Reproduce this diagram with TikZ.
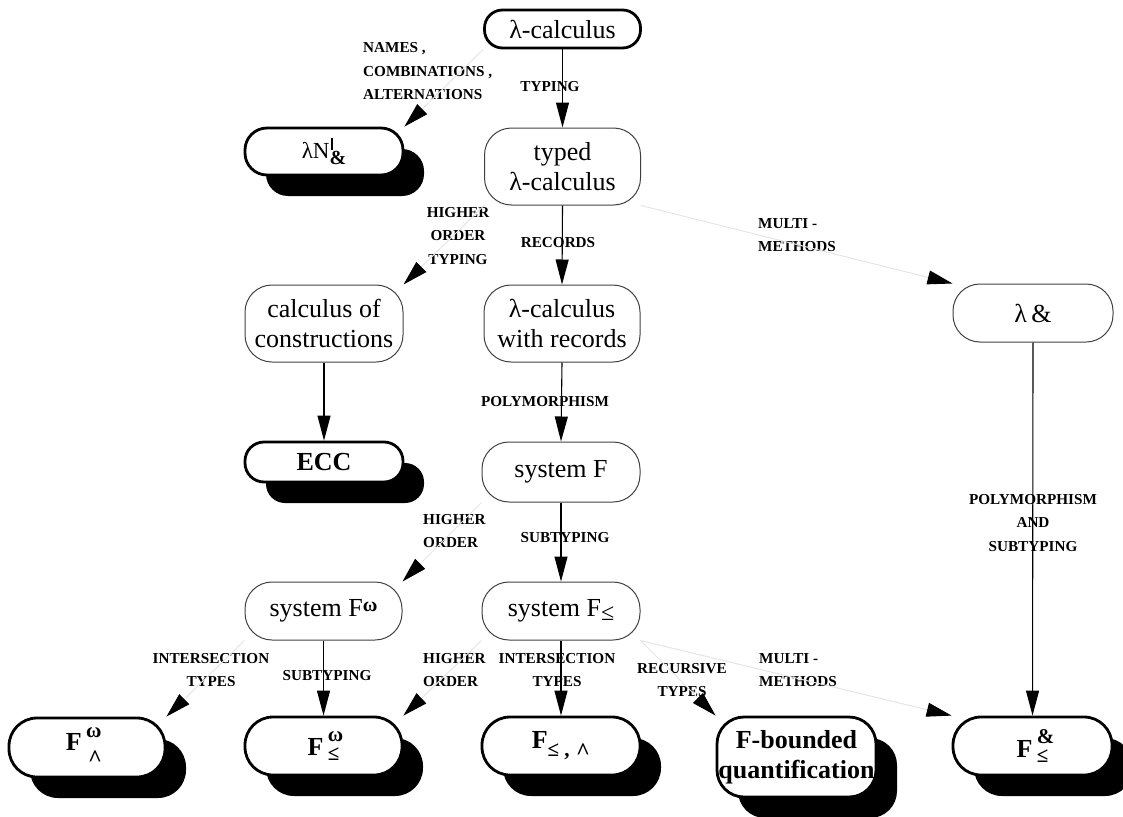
\documentclass[tikz,border=0pt]{standalone}
\usepackage{fontspec}
\setmainfont{Liberation Serif}
\usetikzlibrary{arrows.meta,shadows}
\newcommand\bxf{\fontsize{26}{30}\selectfont}
\newcommand\lblf{\fontsize{15.2}{23.5}\selectfont\bfseries}
\newcommand\smf{\fontsize{21}{21}\selectfont\bfseries}
\newcommand\hatf{\fontsize{24}{24}\selectfont\bfseries\textasciicircum}
\begin{document}
\begin{tikzpicture}[x=1pt,y=-1pt,
  nbox/.style={draw=black!75, line width=1pt, rounded corners=27pt, inner sep=0pt, font=\bxf, align=center, minimum width=156pt},
  tbox/.style={draw=black, line width=2.8pt, fill=white, inner sep=0pt, font=\bxf, align=center, minimum width=156pt},
  sbox/.style={tbox, font=\bxf\bfseries, drop shadow={shadow xshift=21pt, shadow yshift=-21pt, opacity=1, fill=black}},
  vline/.style={line width=1.1pt, -{Triangle[length=25pt,width=13pt]}},
  dline/.style={draw=black!10, line width=1pt, -{Triangle[length=25pt,width=14pt,color=black]}},
  lbl/.style={font=\lblf, inner sep=0pt, align=center}]
\useasboundingbox (0,0) rectangle (1123,816);

% labels
\node[lbl, anchor=west, align=left] (l1) at (363,71.5) {NAMES ,\\COMBINATIONS ,\\ALTERNATIONS};
\node[lbl] (l2) at (550,87) {TYPING};
\node[lbl] (l3) at (458,236) {HIGHER\\ORDER\\TYPING};
\node[lbl] (l4) at (558,243) {RECORDS};
\node[lbl, anchor=west, align=left] (l5) at (758,235) {MULTI -\\METHODS};
\node[lbl] (l6) at (545,402) {POLYMORPHISM};
\node[lbl, anchor=west, align=left] (l7) at (423,531) {HIGHER\\ORDER};
\node[lbl] (l8) at (565,538) {SUBTYPING};
\node[lbl] (l9) at (1033,523) {POLYMORPHISM\\AND\\SUBTYPING};
\node[lbl] (l10) at (211,670) {INTERSECTION\\TYPES};
\node[lbl] (l11) at (327,676) {SUBTYPING};
\node[lbl, anchor=west, align=left] (l12) at (423,670) {HIGHER\\ORDER};
\node[lbl] (l13) at (557,670) {INTERSECTION\\TYPES};
\node[lbl] (l14) at (682,680) {RECURSIVE\\TYPES};
\node[lbl, anchor=west, align=left] (l15) at (759,670) {MULTI -\\METHODS};

% nodes
\node[tbox, minimum height=38pt, rounded corners=18pt] (lc) at (562.5,29) {λ-calculus};
\node[sbox, minimum width=158pt, minimum height=47pt, rounded corners=22pt, font=\fontsize{23}{26}\selectfont] (lnb) at (324,151.5)
  {λN\makebox[0pt][l]{\hspace{1pt}\raisebox{8pt}{\rule{2.4pt}{12pt}}}\raisebox{-6pt}{\fontsize{20}{20}\selectfont\bfseries\&}};
\node[nbox, minimum height=77pt] (typed) at (562.5,166.5) {typed\\λ-calculus};
\node[nbox, minimum height=77pt] (rec) at (562,323.5) {λ-calculus\\with records};
\node[nbox, minimum width=158pt, minimum height=77pt] (coc) at (324,323.5) {calculus of\\constructions};
\node[nbox, minimum width=160pt, minimum height=58pt] (lamp) at (1033,313) {λ\,\&};
\node[sbox, minimum width=158pt, minimum height=40pt, rounded corners=19pt] (ecc) at (324,462) {ECC};
\node[nbox, minimum width=158pt, minimum height=60pt] (sysf) at (561,472) {system F};
\node[nbox, minimum width=157pt, minimum height=58pt] (fw) at (323.5,611) {system F\raisebox{5pt}{\fontsize{20}{20}\selectfont\bfseries ω}};
\node[nbox, minimum width=158pt, minimum height=58pt] (fle) at (561,611) {system F\raisebox{-4pt}{\fontsize{24}{24}\selectfont ≤}};
\node[sbox, minimum height=59pt, rounded corners=28pt] (fwa) at (87,747.5)
  {F\,\makebox[0pt][l]{\raisebox{13pt}{\smf ω}}\hspace{2pt}\raisebox{-16pt}{\hatf}\hspace{6pt}};
\node[sbox, minimum width=157pt, minimum height=58pt, rounded corners=28pt] (fwl) at (323.5,746)
  {F\,\makebox[0pt][l]{\raisebox{14pt}{\smf ω}}\raisebox{-5pt}{\smf ≤}};
\node[sbox, minimum width=158pt, minimum height=58pt, rounded corners=28pt] (flea) at (561,746)
  {F\raisebox{-8pt}{\smf ≤ ,} \raisebox{-11pt}{\hatf}};
\node[sbox, minimum width=159pt, minimum height=80pt, rounded corners=27pt] (fb) at (796.5,757) {F-bounded\\quantification};
\node[sbox, minimum width=159pt, minimum height=58pt, rounded corners=28pt] (fam) at (1032.5,746)
  {F\,\makebox[0pt][l]{\raisebox{14pt}{\smf\&}}\raisebox{-5pt}{\smf ≤}};

% vertical arrows
\draw[vline] (lc.south) -- (typed.north);
\draw[vline] (typed.south) -- (rec.north);
\draw[vline] (rec.south) -- (sysf.north);
\draw[vline] (sysf.south) -- (fle.north);
\draw[vline] (coc.south) -- (ecc.north);
\draw[vline] (fw.south) -- (fwl.north);
\draw[vline] (fle.south) -- (flea.north);
\draw[vline] (lamp.south) -- (fam.north);

% faint diagonal arrows
\draw[dline] (lc.south west) -- (lnb.north east);
\draw[dline] (typed.south west) -- (coc.north east);
\draw[dline] (typed.south east) -- (lamp.north west);
\draw[dline] (sysf.south west) -- (fw.north east);
\draw[dline] (fw.south west) -- (fwa.north east);
\draw[dline] (fle.south west) -- (fwl.north east);
\draw[dline] (fle.south east) -- (fb.north west);
\draw[dline] (fle.south east) -- (fam.north west);
\end{tikzpicture}
\end{document}
